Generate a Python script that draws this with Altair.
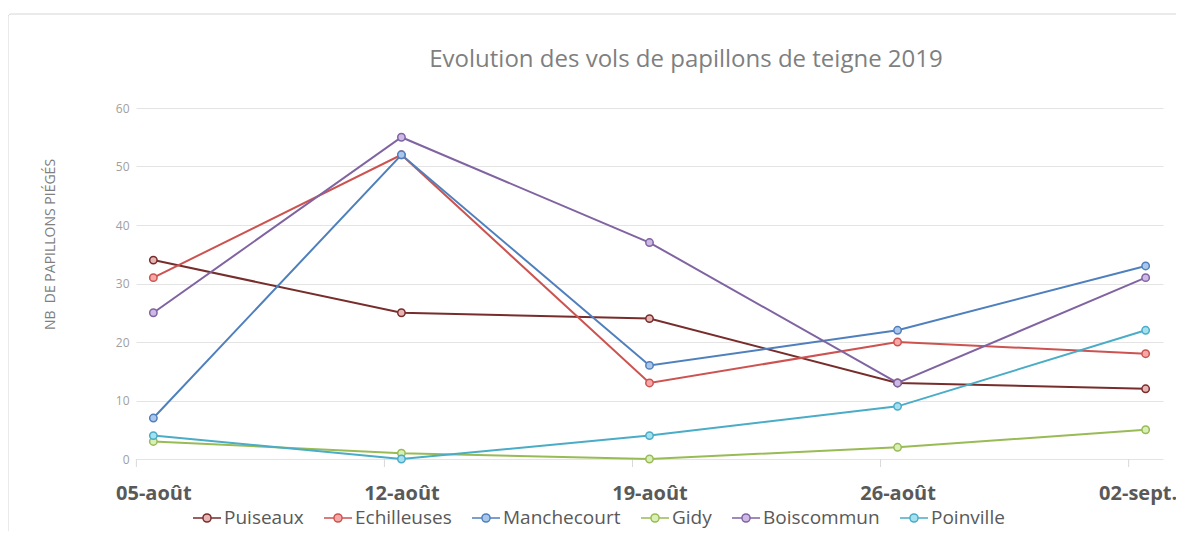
import altair as alt
import pandas as pd

dates = ["05-août", "12-août", "19-août", "26-août", "02-sept."]
series = ["Puiseaux", "Echilleuses", "Manchecourt", "Gidy", "Boiscommun", "Poinville"]
puiseaux = [34, 25, 24, 13, 12]
echilleuses = [31, 52, 13, 20, 18]
manchecourt = [7, 52, 16, 22, 33]
gidy = [3, 1, 0, 2, 5]
boiscommun = [25, 55, 37, 13, 31]
poinville = [4, 0, 4, 9, 22]
y_ticks = [0, 10, 20, 30, 40, 50, 60]
title_text = "Evolution des vols de papillons de teigne 2019"
y_title = "NB\u00a0 DE PAPILLONS PIÉGÉS"

line_colors = ["#772d2b", "#cc5350", "#4f80bd", "#99bb55", "#8064a2", "#4aacc6"]
fill_colors = ["#e6b5b4", "#f5a9a7", "#aac6ea", "#d8f0b6", "#ccb9e6", "#a5e0f0"]

values_by_series = [puiseaux, echilleuses, manchecourt, gidy, boiscommun, poinville]
rows = []
for s, vals in zip(series, values_by_series):
    for d, v in zip(dates, vals):
        rows.append({"date": d, "series": s, "value": v})
df = pd.DataFrame(rows)
df_dates = pd.DataFrame({"date": dates})

FONT = "Open Sans"
W, H = 1027, 351

x_scale = alt.Scale(type="point", padding=0.07, domain=dates)

x_enc = alt.X(
    "date:N",
    sort=dates,
    scale=x_scale,
    axis=alt.Axis(
        title=None, labelAngle=0, labelFontSize=20, labelFontWeight="bold",
        labelColor="#595959", labelFont=FONT, labelPadding=24,
        labelOffset={"condition": {"test": "datum.value == '02-sept.'", "value": -8}, "value": 0},
        ticks=False, domain=False, grid=False,
    ),
)
y_enc = alt.Y(
    "value:Q",
    scale=alt.Scale(domain=[0, 60], nice=False),
    axis=alt.Axis(
        values=y_ticks, title=y_title,
        titleFont=FONT, titleFontSize=14, titleFontWeight="normal",
        titleColor="#7f7f7f", titleAngle=-90, titleX=-86, titleY=136,
        titleAlign="center", titleBaseline="middle",
        labelFont=FONT, labelFontSize=12, labelColor="#a0a0a0",
        labelPadding=7, ticks=False, domain=False,
        grid=True, gridColor="#e4e4e4", gridWidth=1,
    ),
)

frame = alt.Chart(alt.Data(values=[{}])).mark_rect(
    fill="transparent", stroke="#d6d6d6", strokeWidth=1, cornerRadius=3
).encode(
    x=alt.value(-128), x2=alt.value(W + 80),
    y=alt.value(-94), y2=alt.value(H + 200),
)

title = alt.Chart(alt.Data(values=[{"t": title_text}])).mark_text(
    font=FONT, fontSize=24, color="#7f7f7f", align="center", baseline="middle"
).encode(
    text="t:N", x=alt.value(550), y=alt.value(-48),
)

ticks = alt.Chart(df_dates).mark_rule(color="#d9d9d9", strokeWidth=1, xOffset=-17).encode(
    x=x_enc,
    y=alt.value(H),
    y2=alt.value(H + 8),
)

sym = "M-1,0L-0.29,0M0.29,0L1,0M0.29,0A0.29,0.29,0,1,1,-0.29,0A0.29,0.29,0,1,1,0.29,0Z"

lines = alt.Chart(df).mark_line(strokeWidth=2).encode(
    x=x_enc,
    y=y_enc,
    color=alt.Color(
        "series:N",
        scale=alt.Scale(domain=series, range=line_colors),
        legend=alt.Legend(
            title=None, orient="none", legendX=56, legendY=395,
            direction="horizontal", symbolType=sym, symbolSize=784,
            symbolStrokeWidth=1.5, labelFont=FONT, labelFontSize=19,
            labelColor="#595959", columnPadding=17, labelOffset=2,
            padding=0,
        ),
    ),
)

points = alt.Chart(df).mark_point(filled=True, size=55, strokeWidth=1.5, opacity=1).encode(
    x=x_enc,
    y=y_enc,
    fill=alt.Fill("series:N", scale=alt.Scale(domain=series, range=fill_colors), legend=None),
    stroke=alt.Stroke("series:N", scale=alt.Scale(domain=series, range=line_colors), legend=None),
)

chart = alt.layer(frame, ticks, lines, points, title).properties(
    width=W,
    height=H,
    autosize=alt.AutoSizeParams(type="none"),
    padding={"left": 128, "top": 100, "right": 13, "bottom": 72},
).configure_view(stroke=None)

chart.save("out.html", embed_options={"renderer": "svg", "actions": False})
